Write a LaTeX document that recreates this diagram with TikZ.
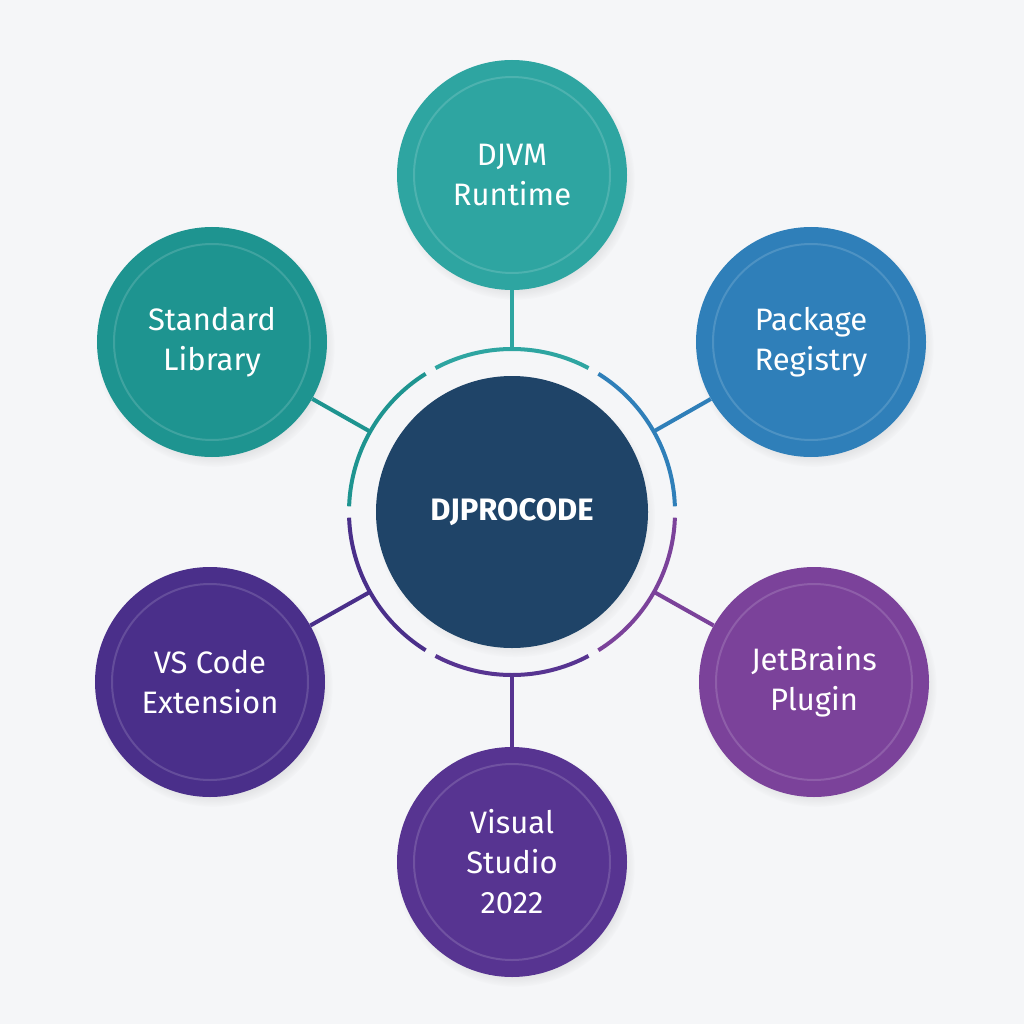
\documentclass[tikz,border=0pt]{standalone}
\usepackage{fontspec}
\setmainfont{Fira Sans}
\usetikzlibrary{calc,shadows}
\definecolor{bg}{HTML}{F5F6F8}
\definecolor{cTeal}{HTML}{2EA5A1}
\definecolor{cStd}{HTML}{1E9490}
\definecolor{cPkg}{HTML}{2F7FB9}
\definecolor{cVS}{HTML}{4A2F8A}
\definecolor{cJB}{HTML}{7B429A}
\definecolor{cVis}{HTML}{573491}
\definecolor{cCore}{HTML}{1F4468}
\begin{document}
\begin{tikzpicture}[x=1pt,y=-1pt,
  sat/.style={circle,minimum size=230pt,inner sep=0pt,fill=#1,text=white,align=center,
    font=\fontsize{31}{40}\selectfont,
    circular drop shadow={shadow xshift=3pt,shadow yshift=-5pt,opacity=.25,shadow scale=1.04},
    path picture={\draw[white,opacity=.15,line width=2pt] (path picture bounding box.center) circle[radius=98pt];}},
  spoke/.style={line width=4pt,draw=#1},
  ring/.style={line width=4pt,draw=#1}]
\fill[bg] (0,0) rectangle (1024,1024);
\useasboundingbox (0,0) rectangle (1024,1024);
\coordinate (c) at (512,512);
\foreach \a/\b/\col in {-118/-62/cTeal,-178/-122/cStd,-58/-2/cPkg,2/58/cJB,62/118/cVis,122/178/cVS}{
  \draw[ring=\col] (c) ++(\a:163) arc[start angle=\a,end angle=\b,radius=163];}
\node[sat=cTeal] (djvm) at (512,175) {DJVM\\Runtime};
\node[sat=cStd] (std) at (212,342) {Standard\\Library};
\node[sat=cPkg] (pkg) at (811,342) {Package\\Registry};
\node[sat=cVS] (vsc) at (210,682) {VS Code\\Extension};
\node[sat=cJB] (jb) at (814,682) {JetBrains\\Plugin};
\node[sat=cVis] (vis) at (512,862) {Visual\\Studio\\2022};
\foreach \n/\col in {djvm/cTeal,std/cStd,pkg/cPkg,vsc/cVS,jb/cJB,vis/cVis}{
  \coordinate (r\n) at ($(c)!163pt!(\n)$);
  \draw[spoke=\col] (r\n) -- (\n);}
\node[circle,minimum size=272pt,fill=cCore,text=white,font=\bfseries\fontsize{31}{36}\selectfont,
  circular drop shadow={shadow xshift=3pt,shadow yshift=-5pt,opacity=.25,shadow scale=1.03}] (core) at (c) {DJPROCODE};
\end{tikzpicture}
\end{document}
